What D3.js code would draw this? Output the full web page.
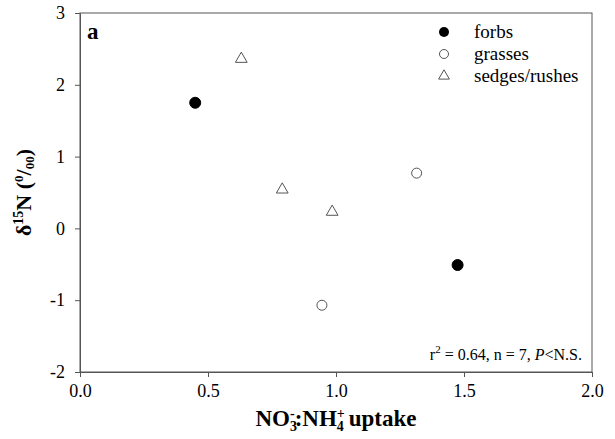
<!DOCTYPE html>
<html>
<head>
<meta charset="utf-8">
<script src="https://cdn.jsdelivr.net/npm/d3@7"></script>
<style>
  body { margin: 0; background: #fff; }
  text { font-family: "Liberation Serif", "Times New Roman", serif; }
</style>
</head>
<body>
<div id="chart"></div>
<script>
// data
var groups = ["forbs", "grasses", "sedges/rushes"];
var forbsX = [0.45, 1.475];
var forbsY = [1.75, -0.51];
var grassesX = [1.315, 0.945];
var grassesY = [0.77, -1.07];
var sedgesX = [0.63, 0.79, 0.985];
var sedgesY = [2.36, 0.54, 0.23];
var xTicks = [0, 0.5, 1, 1.5, 2];
var yTicks = [-2, -1, 0, 1, 2, 3];

var svgWidth = 615;
var svgHeight = 439;
var margin = { top: 13, right: 23, bottom: 67, left: 80 };
var chartWidth = svgWidth - margin.left - margin.right;
var chartHeight = svgHeight - margin.top - margin.bottom;

var serif = "Liberation Serif";

var svg = d3.select("#chart").append("svg")
  .attr("width", svgWidth)
  .attr("height", svgHeight)
  .attr("font-family", serif);

var chartGroup = svg.append("g")
  .attr("transform", `translate(${margin.left}, ${margin.top})`);

var x = d3.scaleLinear().domain([0, 2]).range([0, chartWidth]);
var y = d3.scaleLinear().domain([-2, 3]).range([chartHeight, 0]);

var axisColor = "#555";

// frame
chartGroup.append("rect")
  .attr("width", chartWidth)
  .attr("height", chartHeight)
  .attr("fill", "none")
  .attr("stroke", axisColor)
  .attr("stroke-width", 1);

var xAxis = chartGroup.append("g")
  .attr("transform", `translate(0, ${chartHeight})`)
  .call(d3.axisBottom(x).tickValues(xTicks).tickFormat(d3.format(".1f")).tickSizeInner(5).tickSizeOuter(0).tickPadding(7));

var yAxis = chartGroup.append("g")
  .call(d3.axisLeft(y).tickValues(yTicks).tickFormat(d => d < 0 ? "-" + Math.abs(d) : d).tickSizeInner(5).tickSizeOuter(0).tickPadding(10));

[xAxis, yAxis].forEach(function(a) {
  a.attr("font-family", serif).attr("font-size", 18);
  a.select(".domain").attr("stroke", axisColor);
  a.selectAll(".tick line").attr("stroke", axisColor);
  a.selectAll(".tick text").attr("fill", "#000");
});

// points
function addCircles(xs, ys, filled) {
  chartGroup.selectAll(null)
    .data(xs.map((d, i) => [d, ys[i]]))
    .enter()
    .append("circle")
    .attr("cx", d => x(d[0]))
    .attr("cy", d => y(d[1]))
    .attr("r", filled ? 5.5 : 5)
    .attr("fill", filled ? "#000" : "#fff")
    .attr("stroke", filled ? "#000" : "#555")
    .attr("stroke-width", 1);
}
addCircles(forbsX, forbsY, true);
addCircles(grassesX, grassesY, false);

var tri = d3.symbol().type(d3.symbolTriangle).size(60);
chartGroup.selectAll(null)
  .data(sedgesX.map((d, i) => [d, sedgesY[i]]))
  .enter()
  .append("path")
  .attr("d", tri)
  .attr("transform", d => `translate(${x(d[0])}, ${y(d[1])})`)
  .attr("fill", "#fff")
  .attr("stroke", "#555")
  .attr("stroke-width", 1);

// legend
var legend = chartGroup.append("g")
  .attr("transform", "translate(364, 19)");
groups.forEach(function(g, i) {
  var row = legend.append("g").attr("transform", `translate(0, ${i * 22})`);
  if (i === 0) row.append("circle").attr("r", 5).attr("fill", "#000");
  if (i === 1) row.append("circle").attr("r", 4.5).attr("fill", "#fff").attr("stroke", "#555");
  if (i === 2) row.append("path").attr("d", d3.symbol().type(d3.symbolTriangle).size(50)).attr("fill", "#fff").attr("stroke", "#555");
  row.append("text")
    .attr("x", 30)
    .attr("y", 6)
    .attr("font-size", 19)
    .text(g);
});

// panel letter
chartGroup.append("text")
  .attr("x", 7)
  .attr("y", 26)
  .attr("font-size", 23)
  .attr("font-weight", "bold")
  .text("a");

// stats note
var note = chartGroup.append("text")
  .attr("x", chartWidth - 10)
  .attr("y", chartHeight - 12)
  .attr("text-anchor", "end")
  .attr("font-size", 16);
note.append("tspan").text("r");
note.append("tspan").attr("dy", -7).attr("font-size", 11).text("2");
note.append("tspan").attr("dy", 7).text(" = 0.64, n = 7, ");
note.append("tspan").attr("font-style", "italic").text("P");
note.append("tspan").text("<N.S.");

// x title
var xTitle = svg.append("text")
  .attr("x", margin.left + chartWidth / 2)
  .attr("y", 426)
  .attr("text-anchor", "middle")
  .attr("font-size", 23)
  .attr("font-weight", "bold");
xTitle.append("tspan").text("NO");
xTitle.append("tspan").attr("dy", 5).attr("font-size", 14).text("3");
xTitle.append("tspan").attr("dy", -13).attr("dx", -7).attr("font-size", 14).text("-");
xTitle.append("tspan").attr("dy", 8).text(":NH");
xTitle.append("tspan").attr("dy", 5).attr("font-size", 14).text("4");
xTitle.append("tspan").attr("dy", -13).attr("dx", -7).attr("font-size", 14).text("+");
xTitle.append("tspan").attr("dy", 8).attr("dx", 4).text("uptake");

// y title
var yTitle = svg.append("text")
  .attr("transform", `translate(31, ${margin.top + chartHeight / 2}) rotate(-90)`)
  .attr("text-anchor", "middle")
  .attr("font-size", 22)
  .attr("font-weight", "bold");
yTitle.append("tspan").text("\u03b4");
yTitle.append("tspan").attr("dy", -8).attr("font-size", 14).text("15");
yTitle.append("tspan").attr("dy", 8).text("N (");
yTitle.append("tspan").attr("dy", -8).attr("font-size", 13).text("0");
yTitle.append("tspan").attr("dy", 8).text("/");
yTitle.append("tspan").attr("dy", 3).attr("font-size", 13).text("00");
yTitle.append("tspan").attr("dy", -3).text(")");
</script>
</body>
</html>
